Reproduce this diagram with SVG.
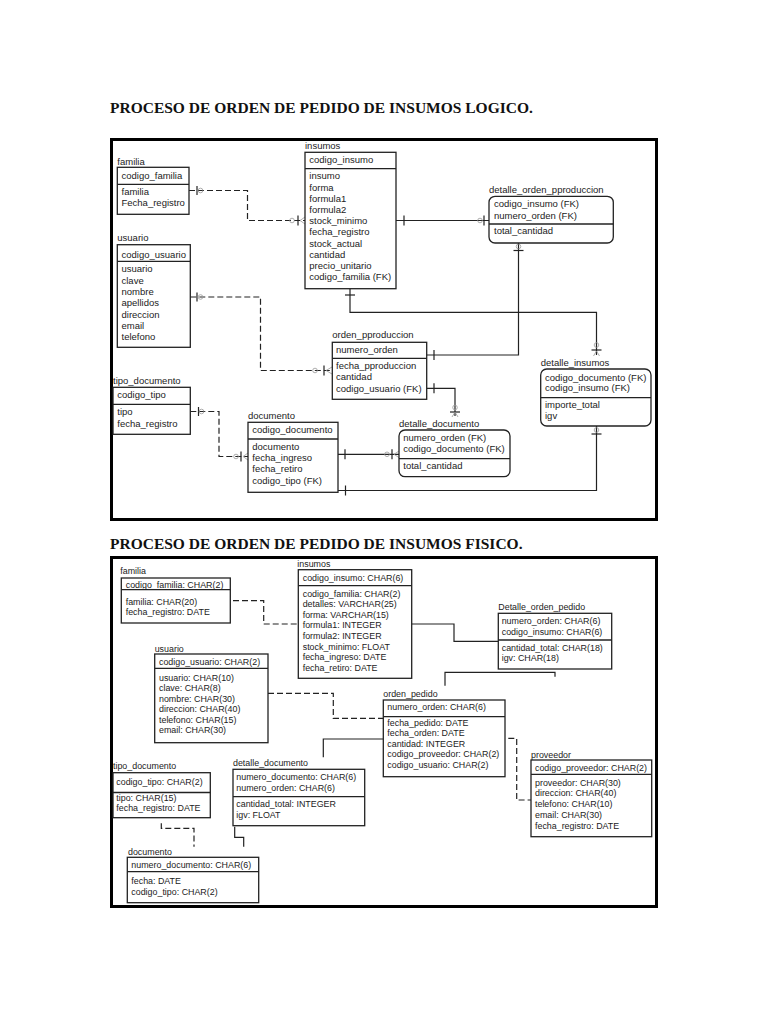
<svg xmlns="http://www.w3.org/2000/svg" width="768" height="1024" viewBox="0 0 768 1024">
<style>
.title{font-family:"Liberation Serif","Times New Roman",serif;font-weight:bold;font-size:15.5px;fill:#111}
.t{font-family:"Liberation Sans",Arial,sans-serif;font-size:9.5px;fill:#222}
.s{font-family:"Liberation Sans",Arial,sans-serif;font-size:8.9px;fill:#222}
.box{fill:#fff;stroke:#222;stroke-width:1.3}
.dv{stroke:#222;stroke-width:1.3}
.frame{fill:#fff;stroke:#000;stroke-width:3}
.ln{fill:none;stroke:#222;stroke-width:1.2}
.ds{stroke-dasharray:6 3}
.tk{stroke:#222;stroke-width:1.2}
.ci{fill:none;stroke:#999;stroke-width:0.8}
</style>
<rect width="768" height="1024" fill="#fff"/>
<text class="title" x="110" y="113">PROCESO DE ORDEN DE PEDIDO DE INSUMOS LOGICO.</text>
<text class="title" x="110" y="549">PROCESO DE ORDEN DE PEDIDO DE INSUMOS FISICO.</text>
<rect class="frame" x="111.5" y="139.5" width="545" height="380"/>
<rect class="frame" x="111.5" y="557.5" width="545" height="349"/>

<g id="connectors">
  <!-- top diagram -->
  <path class="ln ds" d="M189,190.5 H247.5 V220.5 H305"/>
  <line class="tk" x1="197" y1="186" x2="197" y2="195"/><circle class="ci" cx="200.5" cy="190.5" r="2.3"/>
  <circle class="ci" cx="292" cy="220.5" r="2.3"/><line class="tk" x1="298" y1="215.5" x2="298" y2="225.5"/>
  <path class="ci" d="M300,220.5 L305,217 M300,220.5 L305,224"/>

  <path class="ln" d="M396,220.5 H489"/>
  <line class="tk" x1="404" y1="215.5" x2="404" y2="225.5"/>
  <circle class="ci" cx="480" cy="220.5" r="2.3"/><line class="tk" x1="484" y1="215.5" x2="484" y2="225.5"/>

  <path class="ln" d="M518.5,243 V355 H426.7"/>
  <line class="tk" x1="434" y1="350" x2="434" y2="360"/>
  <circle class="ci" cx="518.5" cy="246.5" r="2.3"/><line class="tk" x1="513.5" y1="250.5" x2="523.5" y2="250.5"/>

  <path class="ln" d="M350,288.7 V312.3 H596.5 V355"/>
  <line class="tk" x1="345" y1="295" x2="355" y2="295"/>
  <circle class="ci" cx="596.5" cy="345" r="2.3"/><line class="tk" x1="591.5" y1="350" x2="601.5" y2="350"/>
  <path class="ci" d="M596.5,351 L593.5,356 M596.5,351 L599.5,356"/>

  <path class="ln ds" d="M190.3,297 H260.5 V370.5 H332.3"/>
  <line class="tk" x1="197" y1="292.5" x2="197" y2="301.5"/><circle class="ci" cx="200.5" cy="297" r="2.3"/>
  <circle class="ci" cx="315" cy="370.5" r="2.3"/><line class="tk" x1="324" y1="365.5" x2="324" y2="375.5"/>
  <path class="ci" d="M326,370.5 L332,367 M326,370.5 L332,374"/>

  <path class="ln ds" d="M190.3,411.5 H219 V456.5 H248"/>
  <line class="tk" x1="198.5" y1="407" x2="198.5" y2="416"/><circle class="ci" cx="201.5" cy="411.5" r="2.3"/>
  <circle class="ci" cx="236" cy="456.5" r="2.3"/><line class="tk" x1="241" y1="451.5" x2="241" y2="461.5"/>
  <path class="ci" d="M243,456.5 L248,453 M243,456.5 L248,460"/>

  <path class="ln" d="M338,454.3 H399"/>
  <line class="tk" x1="345" y1="449.3" x2="345" y2="459.3"/>
  <circle class="ci" cx="387" cy="454.3" r="2.3"/><line class="tk" x1="392" y1="449.3" x2="392" y2="459.3"/>
  <path class="ci" d="M394,454.3 L399,451 M394,454.3 L399,457.6"/>

  <path class="ln" d="M338,490.5 H596.5 V426"/>
  <line class="tk" x1="345.5" y1="485.5" x2="345.5" y2="495.5"/>
  <circle class="ci" cx="596.5" cy="430" r="2.3"/><line class="tk" x1="591.5" y1="434" x2="601.5" y2="434"/>

  <path class="ln" d="M426.7,388.3 H455 V416"/>
  <line class="tk" x1="434" y1="383.3" x2="434" y2="393.3"/>
  <circle class="ci" cx="455" cy="407.5" r="2.3"/><line class="tk" x1="450" y1="412" x2="460" y2="412"/>
  <path class="ci" d="M455,412 L452,417 M455,412 L458,417"/>

  <!-- bottom diagram -->
  <path class="ln ds" d="M233,600.7 H263.7 V624 H298.3"/>
  <path class="ln" d="M411.7,624 H454 V641.3 H498.3"/>
  <path class="ln" d="M445,685.7 V672.3 H555 V676.7"/>
  <path class="ln ds" d="M268,693.3 H333.3 V718.3 H383.3"/>
  <path class="ln" d="M323.3,757.3 V739 H383.3"/>
  <path class="ln ds" d="M508.3,738.3 H516.7 V800 H531"/>
  <path class="ln ds" d="M161.3,823.3 V828.3 H194 V846.7"/>
  <path class="ln" d="M234.7,826.7 V837.3 H243.7 V846.7"/>
</g>

<!-- TOP DIAGRAM NODES -->
<g id="familia_l">
  <text class="t" x="117.3" y="164.5">familia</text>
  <rect class="box" x="117.3" y="167.3" width="71.7" height="47"/>
  <line class="dv" x1="117.3" y1="184.3" x2="189" y2="184.3"/>
  <text class="t" x="121.5" y="179">codigo_familia</text>
  <text class="t" x="121.5" y="194.6">familia</text>
  <text class="t" x="121.5" y="205.6">Fecha_registro</text>
</g>
<g id="usuario_l">
  <text class="t" x="117.3" y="241.3">usuario</text>
  <rect class="box" x="117.3" y="244.7" width="73" height="102.6"/>
  <line class="dv" x1="117.3" y1="261.3" x2="190.3" y2="261.3"/>
  <text class="t" x="121.5" y="258">codigo_usuario</text>
  <text class="t" x="121.5" y="272.3">usuario</text>
  <text class="t" x="121.5" y="283.6">clave</text>
  <text class="t" x="121.5" y="294.9">nombre</text>
  <text class="t" x="121.5" y="306.2">apellidos</text>
  <text class="t" x="121.5" y="317.5">direccion</text>
  <text class="t" x="121.5" y="328.8">email</text>
  <text class="t" x="121.5" y="340.1">telefono</text>
</g>
<g id="insumos_l">
  <text class="t" x="305" y="148.6">insumos</text>
  <rect class="box" x="305" y="152.3" width="91" height="136.4"/>
  <line class="dv" x1="305" y1="168.7" x2="396" y2="168.7"/>
  <text class="t" x="309.3" y="163.3">codigo_insumo</text>
  <text class="t" x="309.3" y="179.3">insumo</text>
  <text class="t" x="309.3" y="190.5">forma</text>
  <text class="t" x="309.3" y="201.7">formula1</text>
  <text class="t" x="309.3" y="212.9">formula2</text>
  <text class="t" x="309.3" y="224.1">stock_minimo</text>
  <text class="t" x="309.3" y="235.3">fecha_registro</text>
  <text class="t" x="309.3" y="246.5">stock_actual</text>
  <text class="t" x="309.3" y="257.7">cantidad</text>
  <text class="t" x="309.3" y="268.9">precio_unitario</text>
  <text class="t" x="309.3" y="280.1">codigo_familia (FK)</text>
</g>
<g id="detalle_orden_pproduccion">
  <text class="t" x="489" y="193">detalle_orden_pproduccion</text>
  <rect class="box" x="489" y="196.3" width="124.3" height="46.7" rx="6"/>
  <line class="dv" x1="489" y1="224" x2="613.3" y2="224"/>
  <text class="t" x="494" y="207.3">codigo_insumo (FK)</text>
  <text class="t" x="494" y="218.6">numero_orden (FK)</text>
  <text class="t" x="494" y="234">total_cantidad</text>
</g>
<g id="orden_pproduccion">
  <text class="t" x="332.3" y="338.3">orden_pproduccion</text>
  <rect class="box" x="332.3" y="342.3" width="94.4" height="57"/>
  <line class="dv" x1="332.3" y1="358.3" x2="426.7" y2="358.3"/>
  <text class="t" x="336" y="352.6">numero_orden</text>
  <text class="t" x="336" y="368.6">fecha_pproduccion</text>
  <text class="t" x="336" y="380">cantidad</text>
  <text class="t" x="336" y="391.6">codigo_usuario (FK)</text>
</g>
<g id="detalle_insumos">
  <text class="t" x="540.7" y="365.6">detalle_insumos</text>
  <rect class="box" x="540.7" y="369" width="110.3" height="57" rx="6"/>
  <line class="dv" x1="540.7" y1="397.7" x2="651" y2="397.7"/>
  <text class="t" x="545" y="380.6">codigo_documento (FK)</text>
  <text class="t" x="545" y="391">codigo_insumo (FK)</text>
  <text class="t" x="545" y="407.6">importe_total</text>
  <text class="t" x="545" y="419.3">igv</text>
</g>
<g id="detalle_documento_l">
  <text class="t" x="399" y="426.6">detalle_documento</text>
  <rect class="box" x="399" y="430" width="111" height="46.7" rx="6"/>
  <line class="dv" x1="399" y1="458.7" x2="510" y2="458.7"/>
  <text class="t" x="403.3" y="440.6">numero_orden (FK)</text>
  <text class="t" x="403.3" y="452.3">codigo_documento (FK)</text>
  <text class="t" x="403.3" y="469">total_cantidad</text>
</g>
<g id="tipo_documento_l">
  <text class="t" x="113" y="384.3">tipo_documento</text>
  <rect class="box" x="113" y="387.3" width="77.3" height="47"/>
  <line class="dv" x1="113" y1="404.3" x2="190.3" y2="404.3"/>
  <text class="t" x="117.3" y="398.3">codigo_tipo</text>
  <text class="t" x="117.3" y="415">tipo</text>
  <text class="t" x="117.3" y="426.6">fecha_registro</text>
</g>
<g id="documento_l">
  <text class="t" x="248" y="419.3">documento</text>
  <rect class="box" x="248" y="422.3" width="90" height="70"/>
  <line class="dv" x1="248" y1="439" x2="338" y2="439"/>
  <text class="t" x="252.3" y="433.3">codigo_documento</text>
  <text class="t" x="252.3" y="450">documento</text>
  <text class="t" x="252.3" y="461">fecha_ingreso</text>
  <text class="t" x="252.3" y="472.3">fecha_retiro</text>
  <text class="t" x="252.3" y="484">codigo_tipo (FK)</text>
</g>

<!-- BOTTOM DIAGRAM NODES -->
<g id="familia_f">
  <text class="s" x="120.3" y="574">familia</text>
  <rect class="box" x="121.3" y="578" width="109" height="45"/>
  <line class="dv" x1="121.3" y1="589.7" x2="230.3" y2="589.7"/>
  <text class="s" x="125.7" y="588">codigo_familia: CHAR(2)</text>
  <text class="s" x="125.7" y="604.6">familia: CHAR(20)</text>
  <text class="s" x="125.7" y="614.6">fecha_registro: DATE</text>
</g>
<g id="usuario_f">
  <text class="s" x="154.7" y="651.6">usuario</text>
  <rect class="box" x="154.7" y="654" width="113.3" height="88.7"/>
  <line class="dv" x1="154.7" y1="668.3" x2="268" y2="668.3"/>
  <text class="s" x="159" y="665">codigo_usuario: CHAR(2)</text>
  <text class="s" x="159" y="681">usuario: CHAR(10)</text>
  <text class="s" x="159" y="691.4">clave: CHAR(8)</text>
  <text class="s" x="159" y="701.8">nombre: CHAR(30)</text>
  <text class="s" x="159" y="712.2">direccion: CHAR(40)</text>
  <text class="s" x="159" y="722.6">telefono: CHAR(15)</text>
  <text class="s" x="159" y="733">email: CHAR(30)</text>
</g>
<g id="insumos_f">
  <text class="s" x="297.3" y="567.3">insumos</text>
  <rect class="box" x="298.3" y="569.7" width="113.4" height="108.6"/>
  <line class="dv" x1="298.3" y1="585.7" x2="411.7" y2="585.7"/>
  <text class="s" x="302.7" y="580.5">codigo_insumo: CHAR(6)</text>
  <text class="s" x="302.7" y="596.6">codigo_familia: CHAR(2)</text>
  <text class="s" x="302.7" y="607.2">detalles: VARCHAR(25)</text>
  <text class="s" x="302.7" y="617.8">forma: VARCHAR(15)</text>
  <text class="s" x="302.7" y="628.4">formula1: INTEGER</text>
  <text class="s" x="302.7" y="639">formula2: INTEGER</text>
  <text class="s" x="302.7" y="649.6">stock_minimo: FLOAT</text>
  <text class="s" x="302.7" y="660.2">fecha_ingreso: DATE</text>
  <text class="s" x="302.7" y="670.8">fecha_retiro: DATE</text>
</g>
<g id="detalle_orden_pedido">
  <text class="s" x="498.3" y="610">Detalle_orden_pedido</text>
  <rect class="box" x="498.3" y="613.3" width="113.4" height="55.7"/>
  <line class="dv" x1="498.3" y1="640" x2="611.7" y2="640"/>
  <text class="s" x="501.7" y="624">numero_orden: CHAR(6)</text>
  <text class="s" x="501.7" y="634.6">codigo_insumo: CHAR(6)</text>
  <text class="s" x="501.7" y="651.3">cantidad_total: CHAR(18)</text>
  <text class="s" x="501.7" y="660.6">igv: CHAR(18)</text>
</g>
<g id="orden_pedido">
  <text class="s" x="383.3" y="696.6">orden_pedido</text>
  <rect class="box" x="383.3" y="700" width="121.7" height="76.7"/>
  <line class="dv" x1="383.3" y1="716.7" x2="505" y2="716.7"/>
  <text class="s" x="387.3" y="709.5">numero_orden: CHAR(6)</text>
  <text class="s" x="387.3" y="725.6">fecha_pedido: DATE</text>
  <text class="s" x="387.3" y="736.2">fecha_orden: DATE</text>
  <text class="s" x="387.3" y="746.8">cantidad: INTEGER</text>
  <text class="s" x="387.3" y="757.4">codigo_proveedor: CHAR(2)</text>
  <text class="s" x="387.3" y="768">codigo_usuario: CHAR(2)</text>
</g>
<g id="proveedor">
  <text class="s" x="531" y="758">proveedor</text>
  <rect class="box" x="531" y="760" width="120.7" height="76.7"/>
  <line class="dv" x1="531" y1="774.3" x2="651.7" y2="774.3"/>
  <text class="s" x="535" y="771">codigo_proveedor: CHAR(2)</text>
  <text class="s" x="535" y="785.6">proveedor: CHAR(30)</text>
  <text class="s" x="535" y="796.4">direccion: CHAR(40)</text>
  <text class="s" x="535" y="807.2">telefono: CHAR(10)</text>
  <text class="s" x="535" y="818">email: CHAR(30)</text>
  <text class="s" x="535" y="828.8">fecha_registro: DATE</text>
</g>
<g id="tipo_documento_f">
  <text class="s" x="113" y="769.3">tipo_documento</text>
  <rect class="box" x="113" y="772.7" width="97.3" height="45"/>
  <line class="dv" x1="113" y1="792.5" x2="210.3" y2="792.5"/>
  <text class="s" x="116.3" y="785">codigo_tipo: CHAR(2)</text>
  <text class="s" x="116.3" y="801">tipo: CHAR(15)</text>
  <text class="s" x="116.3" y="811">fecha_registro: DATE</text>
</g>
<g id="detalle_documento_f">
  <text class="s" x="233" y="766">detalle_documento</text>
  <rect class="box" x="233" y="769.3" width="131.7" height="56.4"/>
  <line class="dv" x1="233" y1="796.7" x2="364.7" y2="796.7"/>
  <text class="s" x="236.3" y="780">numero_documento: CHAR(6)</text>
  <text class="s" x="236.3" y="791">numero_orden: CHAR(6)</text>
  <text class="s" x="236.3" y="807.3">cantidad_total: INTEGER</text>
  <text class="s" x="236.3" y="817.6">igv: FLOAT</text>
</g>
<g id="documento_f">
  <text class="s" x="128" y="855">documento</text>
  <rect class="box" x="127.3" y="857.3" width="131.4" height="45.4"/>
  <line class="dv" x1="127.3" y1="871.7" x2="258.7" y2="871.7"/>
  <text class="s" x="131.3" y="868.3">numero_documento: CHAR(6)</text>
  <text class="s" x="131.3" y="884.3">fecha: DATE</text>
  <text class="s" x="131.3" y="895">codigo_tipo: CHAR(2)</text>
</g>
</svg>
